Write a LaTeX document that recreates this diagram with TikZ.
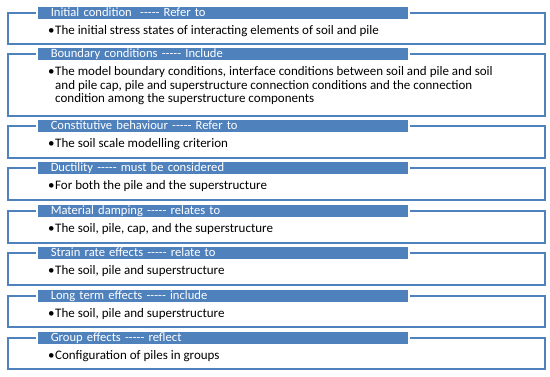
\documentclass[tikz,border=0pt]{standalone}
\usepackage{fontspec}
\newfontfamily\calfont{Carlito}
\definecolor{obl}{HTML}{4F81BD}
\tikzset{
  x=1pt, y=-1pt,
  outerbox/.style={draw=obl, line width=2pt, fill=white, anchor=north west, minimum width=537pt, inner sep=0pt},
  headbar/.style={fill=obl, draw=white, line width=1.5pt, anchor=north west, minimum width=372pt, minimum height=13.5pt,
     inner xsep=14pt, inner ysep=0pt, text width=344pt, align=left, text height=10pt, text depth=2pt,
     text=white, font=\calfont\fontsize{12.6}{14}\selectfont},
  bodytext/.style={anchor=base west, inner sep=0pt, align=left, text=black, font=\calfont\fontsize{13}{13.6}\selectfont},
}
\newcommand\bul{\makebox[7pt][l]{•}}
\newcommand\ind{\hspace*{7pt}}
\begin{document}
\begin{tikzpicture}
\useasboundingbox (0,0) rectangle (550,376);
% 1
\node[outerbox, minimum height=31pt] (b1) at (7,12) {};
\node[headbar] (h1) at (36,5) {Initial condition\ \ ----- Refer to};
\node[bodytext] (t1) at (48,34) {\bul The initial stress states of interacting elements of soil and pile};
% 2
\node[outerbox, minimum height=62pt] (b2) at (7,53) {};
\node[headbar] (h2) at (36,46) {Boundary conditions ----- Include};
\node[bodytext, anchor=north west] (t2) at (48,66.5) {\bul The model boundary conditions, interface conditions between soil and pile and soil\\\ind and pile cap, pile and superstructure connection conditions and the connection\\\ind condition among the superstructure components};
% 3
\node[outerbox, minimum height=32pt] (b3) at (7,125) {};
\node[headbar] (h3) at (36,118) {Constitutive behaviour ----- Refer to};
\node[bodytext] (t3) at (48,147) {\bul The soil scale modelling criterion};
% 4
\node[outerbox, minimum height=32pt] (b4) at (7,167) {};
\node[headbar] (h4) at (36,160) {Ductility ----- must be considered};
\node[bodytext] (t4) at (48,189) {\bul For both the pile and the superstructure};
% 5
\node[outerbox, minimum height=32pt] (b5) at (7,210) {};
\node[headbar] (h5) at (36,203) {Material damping ----- relates to};
\node[bodytext] (t5) at (48,232) {\bul The soil, pile, cap, and the superstructure};
% 6
\node[outerbox, minimum height=32pt] (b6) at (7,252) {};
\node[headbar] (h6) at (36,245) {Strain rate effects ----- relate to};
\node[bodytext] (t6) at (48,274) {\bul The soil, pile and superstructure};
% 7
\node[outerbox, minimum height=31pt] (b7) at (7,295) {};
\node[headbar] (h7) at (36,288) {Long term effects ----- include};
\node[bodytext] (t7) at (48,317) {\bul The soil, pile and superstructure};
% 8
\node[outerbox, minimum height=31pt] (b8) at (7,337) {};
\node[headbar] (h8) at (36,330) {Group effects ----- reflect};
\node[bodytext] (t8) at (48,359) {\bul Configuration of piles in groups};
\end{tikzpicture}
\end{document}
